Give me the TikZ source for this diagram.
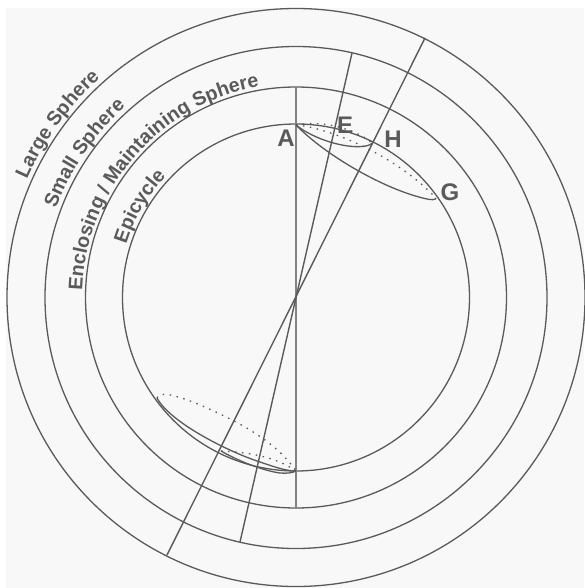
\documentclass[tikz,border=0pt]{standalone}
\usepackage{fontspec}
\setmainfont{Liberation Sans}
\usetikzlibrary{decorations.text}
\definecolor{ink}{HTML}{5A5A5A}
\definecolor{paper}{HTML}{F8F8F8}
\tikzset{
  x=1pt,y=-1pt,
  ring/.style={draw=ink,line width=1.3pt},
  spoke/.style={draw=ink,line width=1.4pt},
  axis/.style={draw=ink!75,line width=1.6pt},
  solidarc/.style={draw=ink,line width=1.3pt},
  dotarc/.style={draw=ink,line width=1.3pt,dash pattern=on 1.5pt off 5.5pt},
  pointlabel/.style={text=ink,font=\bfseries\fontsize{24}{24}\selectfont,inner sep=0pt,anchor=center},
  curvedlabel/.style={decorate,decoration={text along path,text align=center,
    text={|\bfseries\fontsize{19.7}{19.7}\selectfont\color{ink}|#1}}}
}
\begin{document}
\begin{tikzpicture}
\useasboundingbox (0,0) rectangle (584,588);
\fill[paper] (6,8) rectangle (584,588);
\coordinate (O) at (296,297.5);
\coordinate (A) at (296,125);
\coordinate (G) at (436,198);
\coordinate (H) at (372,143);
\coordinate (B) at (157,398);
\coordinate (C) at (221,451);
\coordinate (D) at (296,471);
\draw[ring] (O) circle[radius=289];
\draw[ring] (O) circle[radius=251];
\draw[ring] (O) circle[radius=210.5];
\draw[ring] (O) circle[radius=173.5];
\coordinate (vt) at (296,87);
\coordinate (vb) at (296,508);
\coordinate (et) at (352,53);
\coordinate (eb) at (240,542);
\coordinate (ht) at (425,38);
\coordinate (hb) at (167,555);
\draw[axis] (vt) -- (vb);
\draw[spoke] (et) -- (eb);
\draw[spoke] (ht) -- (hb);
% upper ellipses
\draw[solidarc] (A) .. controls (325,155) and (385,190) .. (427,199) .. controls (431,200) and (436,200) .. (G);
\draw[dotarc] (A) .. controls (330,128) and (395,155) .. (G);
\draw[solidarc] (A) .. controls (315,140) and (345,148) .. (362,146.5) .. controls (367,146) and (371,145) .. (H);
\draw[dotarc] (A) .. controls (320,120) and (355,128) .. (H);
% lower ellipses
\draw[dotarc] (B) .. controls (160,392) and (170,393) .. (198,404) .. controls (235,420) and (275,440) .. (D);
\draw[solidarc] (B) .. controls (170,422) and (225,450) .. (257,461) .. controls (272,466) and (285,471) .. (D);
\draw[dotarc] (C) .. controls (245,452) and (275,456) .. (D);
\draw[solidarc] (C) .. controls (240,462) and (265,471) .. (280,473) .. controls (287,473.5) and (292,473) .. (D);
% point labels
\node[pointlabel] (lA) at (286,138) {A};
\node[pointlabel] (lE) at (345,125) {E};
\node[pointlabel] (lH) at (393,139) {H};
\node[pointlabel] (lG) at (450,192) {G};
% curved labels
\begin{scope}[shift={(296,297.5)},x=1pt,y=1pt]
\path[curvedlabel={Large Sphere}] (156.3:294) arc[start angle=156.3,end angle=131.7,radius=294];
\path[curvedlabel={Small Sphere}] (159.7:256) arc[start angle=159.7,end angle=131.7,radius=256];
\path[curvedlabel={Enclosing / Maintaining Sphere}] (179:214) arc[start angle=179,end angle=99,radius=214];
\path[curvedlabel={Epicycle}] (162:178) arc[start angle=162,end angle=137.5,radius=178];
\end{scope}
\end{tikzpicture}
\end{document}
